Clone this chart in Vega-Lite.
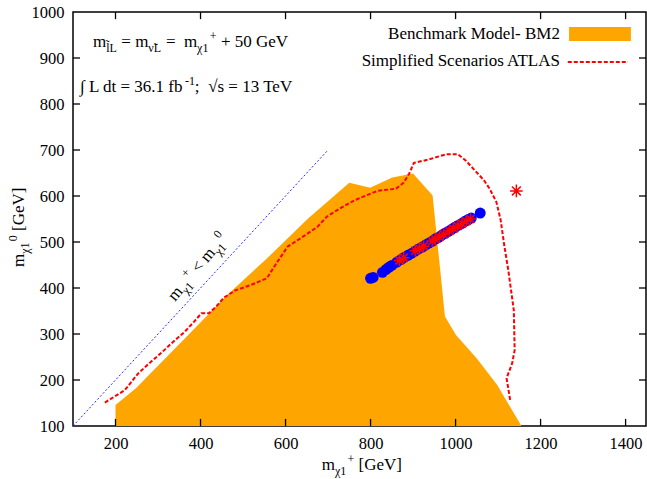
{
  "$schema": "https://vega.github.io/schema/vega-lite/v6.json",
  "width": 573,
  "height": 414,
  "autosize": {"type": "none"},
  "padding": {"left": 73, "top": 12, "right": 1, "bottom": 53},
  "config": {
    "view": {"stroke": "#000000", "strokeWidth": 1.5},
    "font": "Liberation Serif",
    "axis": {"labelFont": "Liberation Serif", "labelFontSize": 16.5, "labelColor": "#000000", "ticks": false, "domain": false, "grid": false, "title": null, "labelFlush": false, "format": "d", "labelPadding": 9}
  },
  "datasets": {
    "bm2": [
      {"x": 200, "y": 145.6}, {"x": 248, "y": 182}, {"x": 367, "y": 294}, {"x": 464, "y": 386},
      {"x": 556, "y": 464}, {"x": 653, "y": 551}, {"x": 750, "y": 629}, {"x": 799, "y": 618},
      {"x": 851, "y": 640}, {"x": 900, "y": 649}, {"x": 946, "y": 601}, {"x": 975, "y": 338},
      {"x": 1001, "y": 298}, {"x": 1050, "y": 247}, {"x": 1098, "y": 189}, {"x": 1155, "y": 100}
    ],
    "atlas": [
      {"i": 1, "x": 175, "y": 151}, {"i": 2, "x": 222, "y": 178}, {"i": 3, "x": 253, "y": 214},
      {"i": 4, "x": 279, "y": 236}, {"i": 5, "x": 310, "y": 261}, {"i": 6, "x": 332, "y": 280},
      {"i": 7, "x": 363, "y": 305}, {"i": 8, "x": 385, "y": 327}, {"i": 9, "x": 402, "y": 345},
      {"i": 10, "x": 420, "y": 345}, {"i": 11, "x": 438, "y": 361}, {"i": 12, "x": 455, "y": 379},
      {"i": 13, "x": 482, "y": 395}, {"i": 14, "x": 517, "y": 406}, {"i": 15, "x": 556, "y": 421},
      {"i": 16, "x": 578, "y": 453}, {"i": 17, "x": 605, "y": 490}, {"i": 18, "x": 640, "y": 511},
      {"i": 19, "x": 675, "y": 533}, {"i": 20, "x": 697, "y": 555}, {"i": 21, "x": 728, "y": 573},
      {"i": 22, "x": 763, "y": 591}, {"i": 23, "x": 816, "y": 611}, {"i": 24, "x": 860, "y": 616},
      {"i": 25, "x": 878, "y": 629}, {"i": 26, "x": 891, "y": 649}, {"i": 27, "x": 902, "y": 672},
      {"i": 28, "x": 935, "y": 679}, {"i": 29, "x": 979, "y": 691}, {"i": 30, "x": 1005, "y": 691},
      {"i": 31, "x": 1023, "y": 678}, {"i": 32, "x": 1045, "y": 656}, {"i": 33, "x": 1067, "y": 634},
      {"i": 34, "x": 1080, "y": 616}, {"i": 35, "x": 1096, "y": 587}, {"i": 36, "x": 1106, "y": 548},
      {"i": 37, "x": 1115, "y": 490}, {"i": 38, "x": 1124, "y": 439}, {"i": 39, "x": 1137, "y": 352},
      {"i": 40, "x": 1139, "y": 265}, {"i": 41, "x": 1133, "y": 236}, {"i": 42, "x": 1120, "y": 204},
      {"i": 43, "x": 1129, "y": 153}
    ],
    "diagline": [{"x": 100, "y": 100}, {"x": 700, "y": 700}],
    "circles": [
      {"x": 800, "y": 421}, {"x": 806, "y": 423}, {"x": 828, "y": 434}, {"x": 836, "y": 440},
      {"x": 843, "y": 445}, {"x": 850, "y": 449}, {"x": 862, "y": 456}, {"x": 872, "y": 462},
      {"x": 880, "y": 467}, {"x": 888, "y": 471}, {"x": 896, "y": 475}, {"x": 905, "y": 480},
      {"x": 913, "y": 485}, {"x": 922, "y": 489}, {"x": 930, "y": 494}, {"x": 938, "y": 498},
      {"x": 946, "y": 502}, {"x": 953, "y": 507}, {"x": 960, "y": 510}, {"x": 968, "y": 515},
      {"x": 975, "y": 519}, {"x": 983, "y": 523}, {"x": 990, "y": 527}, {"x": 998, "y": 532},
      {"x": 1006, "y": 536}, {"x": 1014, "y": 540}, {"x": 1022, "y": 545}, {"x": 1030, "y": 549},
      {"x": 1037, "y": 552}, {"x": 1058, "y": 563}
    ],
    "stars": [
      {"x": 868, "y": 460}, {"x": 878, "y": 466}, {"x": 905, "y": 481}, {"x": 915, "y": 486},
      {"x": 925, "y": 491}, {"x": 945, "y": 502}, {"x": 952, "y": 506}, {"x": 962, "y": 511},
      {"x": 972, "y": 517}, {"x": 985, "y": 524}, {"x": 995, "y": 529}, {"x": 1005, "y": 535},
      {"x": 1015, "y": 540}, {"x": 1025, "y": 545}, {"x": 1035, "y": 550}
    ],
    "lonestar": [{"x": 1143, "y": 611}],
    "xticks": [{"v": 200}, {"v": 400}, {"v": 600}, {"v": 800}, {"v": 1000}, {"v": 1200}, {"v": 1400}],
    "yticks": [{"v": 200}, {"v": 300}, {"v": 400}, {"v": 500}, {"v": 600}, {"v": 700}, {"v": 800}, {"v": 900}],
    "ann": [
      {"t": "m", "x": 147, "y": 924, "r": "n"},
      {"t": "l̃L", "x": 178, "y": 924, "r": "b"},
      {"t": "= m", "x": 213.6, "y": 924, "r": "n"},
      {"t": "ν̃L", "x": 277, "y": 924, "r": "b"},
      {"t": "=", "x": 318.5, "y": 924, "r": "n"},
      {"t": "m", "x": 361, "y": 924, "r": "n"},
      {"t": "χ1", "x": 392, "y": 924, "r": "b"},
      {"t": "+", "x": 422, "y": 924, "r": "p"},
      {"t": "+ 50 GeV", "x": 448, "y": 924, "r": "n"},
      {"t": "∫ L dt = 36.1 fb", "x": 116.5, "y": 826, "r": "n"},
      {"t": "-1", "x": 363.5, "y": 826, "r": "p"},
      {"t": ";", "x": 386.5, "y": 826, "r": "n"},
      {"t": "√s = 13 TeV", "x": 418, "y": 826, "r": "n"},
      {"t": "m", "x": 685, "y": 4.3, "r": "n"},
      {"t": "χ1", "x": 716.3, "y": 4.3, "r": "b"},
      {"t": "+", "x": 745.7, "y": 4.3, "r": "p"},
      {"t": "[GeV]", "x": 771.6, "y": 4.3, "r": "n"}
    ],
    "diag": [
      {"t": "m", "x": 339.9, "y": 369.6, "r": "n"},
      {"t": "χ1", "x": 359.9, "y": 391.5, "r": "b"},
      {"t": "+", "x": 379, "y": 412.6, "r": "p"},
      {"t": "< m", "x": 395.7, "y": 431, "r": "n"},
      {"t": "χ1", "x": 436.6, "y": 475.9, "r": "b"},
      {"t": "0", "x": 455.7, "y": 497, "r": "p"}
    ],
    "ytit": [
      {"t": "m", "x": -15.3, "y": 445.7, "r": "n"},
      {"t": "χ1", "x": -15.3, "y": 474.3, "r": "b"},
      {"t": "0", "x": -15.3, "y": 501.7, "r": "p"},
      {"t": "[GeV]", "x": -15.3, "y": 523.9, "r": "n"}
    ],
    "leg": [
      {"t": "Benchmark Model- BM2", "x": 1245.6, "y": 941.3},
      {"t": "Simplified Scenarios ATLAS", "x": 1245.6, "y": 882.6}
    ],
    "legbox": [{"x": 1267, "x2": 1412.5, "y": 937, "y2": 967.4}],
    "legline": [{"x": 1264, "y": 891.3}, {"x": 1405.5, "y": 891.3}]
  },
  "layer": [
    {
      "data": {"name": "bm2"},
      "mark": {"type": "area", "color": "#ffa500", "opacity": 1},
      "encoding": {
        "x": {"field": "x", "type": "quantitative", "scale": {"domain": [100, 1448], "nice": false, "zero": false},
              "axis": {"orient": "bottom", "values": [200, 400, 600, 800, 1000, 1200, 1400], "format": "d", "labelFont": "Liberation Serif", "labelFontSize": 16.5, "labelPadding": 9}},
        "y": {"field": "y", "type": "quantitative", "scale": {"domain": [100, 1000], "nice": false, "zero": false},
              "axis": {"orient": "left", "values": [100, 200, 300, 400, 500, 600, 700, 800, 900, 1000], "format": "d", "labelFont": "Liberation Serif", "labelFontSize": 16.5, "labelPadding": 9}},
        "y2": {"datum": 100}
      }
    },
    {
      "data": {"name": "diagline"},
      "mark": {"type": "line", "color": "#2a2aff", "strokeWidth": 1, "strokeDash": [2, 2]},
      "encoding": {
        "x": {"field": "x", "type": "quantitative"},
        "y": {"field": "y", "type": "quantitative"}
      }
    },
    {
      "mark": {"type": "rule", "color": "#ff00ff", "strokeWidth": 1.5, "strokeDash": [3, 2]},
      "encoding": {"x": {"datum": 720, "type": "quantitative"}}
    },
    {
      "mark": {"type": "rule", "color": "#ff00ff", "strokeWidth": 1.5, "strokeDash": [3, 2]},
      "encoding": {"y": {"datum": 360, "type": "quantitative"}}
    },
    {
      "data": {"name": "atlas"},
      "mark": {"type": "line", "color": "#ff0000", "strokeWidth": 2, "strokeDash": [4, 2]},
      "encoding": {
        "x": {"field": "x", "type": "quantitative"},
        "y": {"field": "y", "type": "quantitative"},
        "order": {"field": "i", "type": "quantitative"}
      }
    },
    {
      "data": {"name": "circles"},
      "mark": {"type": "point", "filled": true, "color": "#0000ff", "opacity": 1, "size": 120},
      "encoding": {
        "x": {"field": "x", "type": "quantitative"},
        "y": {"field": "y", "type": "quantitative"}
      }
    },
    {
      "data": {"name": "stars"},
      "mark": {"type": "point", "filled": false, "color": "#ff0000", "opacity": 1, "strokeWidth": 1.5, "size": 130,
               "shape": "M0,-1L0,1M-1,0L1,0M-0.7,-0.7L0.7,0.7M-0.7,0.7L0.7,-0.7"},
      "encoding": {
        "x": {"field": "x", "type": "quantitative"},
        "y": {"field": "y", "type": "quantitative"}
      }
    },
    {
      "data": {"name": "lonestar"},
      "mark": {"type": "point", "filled": false, "color": "#ff0000", "opacity": 1, "strokeWidth": 1.5, "size": 160,
               "shape": "M0,-1L0,1M-1,0L1,0M-0.7,-0.7L0.7,0.7M-0.7,0.7L0.7,-0.7"},
      "encoding": {
        "x": {"field": "x", "type": "quantitative"},
        "y": {"field": "y", "type": "quantitative"}
      }
    },
    {
      "data": {"name": "xticks"},
      "mark": {"type": "rule", "color": "#000000", "strokeWidth": 1.3},
      "encoding": {
        "x": {"field": "v", "type": "quantitative"},
        "y": {"datum": 100, "type": "quantitative"},
        "y2": {"datum": 115.5}
      }
    },
    {
      "data": {"name": "xticks"},
      "mark": {"type": "rule", "color": "#000000", "strokeWidth": 1.3},
      "encoding": {
        "x": {"field": "v", "type": "quantitative"},
        "y": {"datum": 1000, "type": "quantitative"},
        "y2": {"datum": 984.5}
      }
    },
    {
      "data": {"name": "yticks"},
      "mark": {"type": "rule", "color": "#000000", "strokeWidth": 1.3},
      "encoding": {
        "y": {"field": "v", "type": "quantitative"},
        "x": {"datum": 100, "type": "quantitative"},
        "x2": {"datum": 116.5}
      }
    },
    {
      "data": {"name": "yticks"},
      "mark": {"type": "rule", "color": "#000000", "strokeWidth": 1.3},
      "encoding": {
        "y": {"field": "v", "type": "quantitative"},
        "x": {"datum": 1448, "type": "quantitative"},
        "x2": {"datum": 1431.5}
      }
    },
    {
      "data": {"name": "legbox"},
      "mark": {"type": "rect", "color": "#ffa500"},
      "encoding": {
        "x": {"field": "x", "type": "quantitative"},
        "x2": {"field": "x2"},
        "y": {"field": "y", "type": "quantitative"},
        "y2": {"field": "y2"}
      }
    },
    {
      "data": {"name": "legline"},
      "mark": {"type": "line", "color": "#ff0000", "strokeWidth": 2, "strokeDash": [4, 2]},
      "encoding": {
        "x": {"field": "x", "type": "quantitative"},
        "y": {"field": "y", "type": "quantitative"}
      }
    },
    {
      "data": {"name": "leg"},
      "mark": {"type": "text", "align": "right", "baseline": "alphabetic", "fontSize": 17, "font": "Liberation Serif", "color": "#000000"},
      "encoding": {
        "x": {"field": "x", "type": "quantitative"},
        "y": {"field": "y", "type": "quantitative"},
        "text": {"field": "t"}
      }
    },
    {
      "data": {"name": "ann"},
      "transform": [{"filter": "datum.r === 'n'"}],
      "mark": {"type": "text", "align": "left", "baseline": "alphabetic", "fontSize": 17, "font": "Liberation Serif", "color": "#000000"},
      "encoding": {
        "x": {"field": "x", "type": "quantitative"},
        "y": {"field": "y", "type": "quantitative"},
        "text": {"field": "t"}
      }
    },
    {
      "data": {"name": "ann"},
      "transform": [{"filter": "datum.r === 'b'"}],
      "mark": {"type": "text", "align": "left", "baseline": "alphabetic", "fontSize": 12, "dy": 5, "font": "Liberation Serif", "color": "#000000"},
      "encoding": {
        "x": {"field": "x", "type": "quantitative"},
        "y": {"field": "y", "type": "quantitative"},
        "text": {"field": "t"}
      }
    },
    {
      "data": {"name": "ann"},
      "transform": [{"filter": "datum.r === 'p'"}],
      "mark": {"type": "text", "align": "left", "baseline": "alphabetic", "fontSize": 12, "dy": -7, "font": "Liberation Serif", "color": "#000000"},
      "encoding": {
        "x": {"field": "x", "type": "quantitative"},
        "y": {"field": "y", "type": "quantitative"},
        "text": {"field": "t"}
      }
    },
    {
      "data": {"name": "diag"},
      "transform": [{"filter": "datum.r === 'n'"}],
      "mark": {"type": "text", "align": "left", "baseline": "alphabetic", "angle": -50, "fontSize": 17, "font": "Liberation Serif", "color": "#000000"},
      "encoding": {
        "x": {"field": "x", "type": "quantitative"},
        "y": {"field": "y", "type": "quantitative"},
        "text": {"field": "t"}
      }
    },
    {
      "data": {"name": "diag"},
      "transform": [{"filter": "datum.r === 'b'"}],
      "mark": {"type": "text", "align": "left", "baseline": "alphabetic", "angle": -50, "fontSize": 12, "dy": 5, "font": "Liberation Serif", "color": "#000000"},
      "encoding": {
        "x": {"field": "x", "type": "quantitative"},
        "y": {"field": "y", "type": "quantitative"},
        "text": {"field": "t"}
      }
    },
    {
      "data": {"name": "diag"},
      "transform": [{"filter": "datum.r === 'p'"}],
      "mark": {"type": "text", "align": "left", "baseline": "alphabetic", "angle": -50, "fontSize": 12, "dy": -7, "font": "Liberation Serif", "color": "#000000"},
      "encoding": {
        "x": {"field": "x", "type": "quantitative"},
        "y": {"field": "y", "type": "quantitative"},
        "text": {"field": "t"}
      }
    },
    {
      "data": {"name": "ytit"},
      "transform": [{"filter": "datum.r === 'n'"}],
      "mark": {"type": "text", "align": "left", "baseline": "alphabetic", "angle": -90, "fontSize": 17, "font": "Liberation Serif", "color": "#000000"},
      "encoding": {
        "x": {"field": "x", "type": "quantitative"},
        "y": {"field": "y", "type": "quantitative"},
        "text": {"field": "t"}
      }
    },
    {
      "data": {"name": "ytit"},
      "transform": [{"filter": "datum.r === 'b'"}],
      "mark": {"type": "text", "align": "left", "baseline": "alphabetic", "angle": -90, "fontSize": 12, "dy": 5, "font": "Liberation Serif", "color": "#000000"},
      "encoding": {
        "x": {"field": "x", "type": "quantitative"},
        "y": {"field": "y", "type": "quantitative"},
        "text": {"field": "t"}
      }
    },
    {
      "data": {"name": "ytit"},
      "transform": [{"filter": "datum.r === 'p'"}],
      "mark": {"type": "text", "align": "left", "baseline": "alphabetic", "angle": -90, "fontSize": 12, "dy": -7, "font": "Liberation Serif", "color": "#000000"},
      "encoding": {
        "x": {"field": "x", "type": "quantitative"},
        "y": {"field": "y", "type": "quantitative"},
        "text": {"field": "t"}
      }
    }
  ]
}
